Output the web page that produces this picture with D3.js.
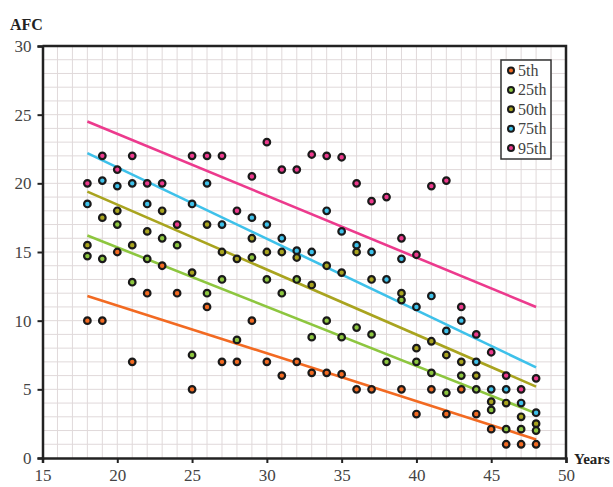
<!DOCTYPE html>
<html>
<head>
<meta charset="utf-8">
<script src="https://cdn.jsdelivr.net/npm/d3@7"></script>
<style>
  body { margin: 0; background: #fff; }
  svg text { font-family: "Liberation Serif", "Times New Roman", serif; }
</style>
</head>
<body>
<div class="chart"></div>
<script>
// percentile names and colours
const seriesNames = ['5th', '25th', '50th', '75th', '95th'];
const seriesColors = ['#f26a22', '#8dc63f', '#a9a41f', '#3ec1ea', '#ec3a8d'];

// [age, AFC]
const p5 = [[18,10],[19,10],[20,15],[21,7],[22,12],[23,14],[24,12],[25,5],[26,11],[27,7],[28,7],[29,10],[30,7],[31,6],[32,7],[33,6.2],[34,6.2],[35,6.1],[36,5],[37,5],[39,5],[40,3.2],[41,5],[42,3.2],[43,5],[44,3.2],[45,2.1],[46,1],[47,1],[48,1]];
const p25 = [[18,14.7],[19,14.5],[20,17],[21,12.8],[22,14.5],[23,16],[24,15.5],[25,7.5],[26,12],[27,13],[28,8.6],[29,14.6],[30,13],[31,12],[32,13],[33,8.8],[34,10],[35,8.8],[36,9.5],[37,9],[38,7],[39,11.5],[40,7],[41,6.2],[42,4.75],[43,6],[44,5],[45,3.5],[46,2.1],[47,2.1],[48,2]];
const p50 = [[18,15.5],[19,17.5],[20,18],[21,15.5],[22,16.5],[23,18],[25,13.5],[26,17],[27,15],[28,14.5],[29,16],[30,15],[31,15],[32,14.6],[33,12.6],[34,14],[35,13.5],[36,15],[37,13],[39,12],[40,8],[41,8.5],[42,7.5],[43,7],[44,6],[45,4.1],[46,4],[47,3],[48,2.5]];
const p75 = [[18,18.5],[19,20.2],[20,19.8],[21,20],[22,18.5],[25,18.5],[26,20],[27,17],[29,17.5],[30,17],[31,16],[32,15.1],[33,15],[34,18],[35,16.5],[36,15.5],[37,15],[38,13],[39,14.5],[40,11],[41,11.8],[42,9.25],[43,10],[44,7],[45,5],[46,5],[47,4],[48,3.3]];
const p95 = [[18,20],[19,22],[20,21],[21,22],[22,20],[23,20],[24,17],[25,22],[26,22],[27,22],[28,18],[29,20.5],[30,23],[31,21],[32,21],[33,22.1],[34,22],[35,21.9],[36,20],[37,18.7],[38,19],[39,16],[40,14.8],[41,19.8],[42,20.2],[43,11],[44,9],[45,7.7],[46,6],[47,5],[48,5.8]];

// trend lines: value at age 18 and at age 48
const trendAges = [18, 48];
const trendStart = [11.8, 16.2, 19.4, 22.2, 24.5];
const trendEnd = [1.35, 3.25, 5.2, 6.6, 11.0];

const xTicks = [15, 20, 25, 30, 35, 40, 45, 50];
const yTicks = [0, 5, 10, 15, 20, 25, 30];

const allSeries = [p5, p25, p50, p75, p95];

const width = 613;
const height = 487;
const margin = { top: 46, right: 47, bottom: 29, left: 42.5 };

const xScale = d3.scaleLinear()
  .domain([15, 50])
  .range([margin.left, width - margin.right]);

const yScale = d3.scaleLinear()
  .domain([0, 30])
  .range([height - margin.bottom, margin.top]);

const svg = d3.select('.chart')
  .append('svg')
  .attr('width', width)
  .attr('height', height);

// grid, one line per unit
svg.append('g')
  .selectAll('line')
  .data(d3.range(16, 50))
  .enter()
  .append('line')
  .attr('x1', d => xScale(d))
  .attr('x2', d => xScale(d))
  .attr('y1', yScale(0))
  .attr('y2', yScale(30))
  .attr('stroke', '#e0d9da')
  .attr('stroke-width', 1);

svg.append('g')
  .selectAll('line')
  .data(d3.range(1, 30))
  .enter()
  .append('line')
  .attr('x1', xScale(15))
  .attr('x2', xScale(50))
  .attr('y1', d => yScale(d))
  .attr('y2', d => yScale(d))
  .attr('stroke', '#e0d9da')
  .attr('stroke-width', 1);

// axes
const xAxis = svg.append('g')
  .attr('transform', `translate(0,${yScale(0)})`)
  .call(d3.axisBottom(xScale).tickValues(xTicks).tickSize(5).tickPadding(6));

const yAxis = svg.append('g')
  .attr('transform', `translate(${xScale(15)},0)`)
  .call(d3.axisLeft(yScale).tickValues(yTicks).tickSize(5).tickPadding(6));

[xAxis, yAxis].forEach(ax => {
  ax.select('.domain').attr('stroke', '#222').attr('stroke-width', 2.5);
  ax.selectAll('.tick line').attr('stroke', '#222').attr('stroke-width', 2);
  ax.selectAll('.tick text')
    .attr('fill', '#444')
    .style('font-size', '17px')
    .style('font-family', '"Liberation Serif", serif');
});

// top and right border
svg.append('path')
  .attr('d', `M${xScale(15)},${yScale(30)}H${xScale(50)}V${yScale(0)}`)
  .attr('fill', 'none')
  .attr('stroke', '#222')
  .attr('stroke-width', 2.5);

// trend lines
svg.selectAll('.trend')
  .data(seriesNames)
  .enter()
  .append('line')
  .attr('class', 'trend')
  .attr('x1', xScale(trendAges[0]))
  .attr('x2', xScale(trendAges[1]))
  .attr('y1', (d, i) => yScale(trendStart[i]))
  .attr('y2', (d, i) => yScale(trendEnd[i]))
  .attr('stroke', (d, i) => seriesColors[i])
  .attr('stroke-width', 2.6);

// points
allSeries.forEach((s, i) => {
  svg.append('g')
    .selectAll('circle')
    .data(s)
    .enter()
    .append('circle')
    .attr('cx', d => xScale(d[0]))
    .attr('cy', d => yScale(d[1]))
    .attr('r', 3.3)
    .attr('fill', seriesColors[i])
    .attr('stroke', '#1a1a1a')
    .attr('stroke-width', 2.2);
});

// axis titles
svg.append('text')
  .attr('x', 10)
  .attr('y', 30)
  .attr('font-weight', 'bold')
  .attr('font-size', 16)
  .attr('fill', '#222')
  .text('AFC');

svg.append('text')
  .attr('x', 574)
  .attr('y', 464)
  .attr('font-weight', 'bold')
  .attr('font-size', 15)
  .attr('fill', '#222')
  .text('Years');

// legend
const legend = svg.append('g').attr('transform', 'translate(501,60)');

legend.append('rect')
  .attr('width', 50)
  .attr('height', 99)
  .attr('fill', '#fff')
  .attr('stroke', '#333')
  .attr('stroke-width', 1.5);

const items = legend.selectAll('.item')
  .data(seriesNames)
  .enter()
  .append('g')
  .attr('transform', (d, i) => `translate(0,${10.5 + i * 19.4})`);

items.append('circle')
  .attr('cx', 10)
  .attr('cy', 0)
  .attr('r', 3)
  .attr('fill', (d, i) => seriesColors[i])
  .attr('stroke', '#1a1a1a')
  .attr('stroke-width', 2);

items.append('text')
  .attr('x', 17)
  .attr('y', 5.5)
  .attr('font-size', 16)
  .attr('fill', '#444')
  .text(d => d);
</script>
</body>
</html>
